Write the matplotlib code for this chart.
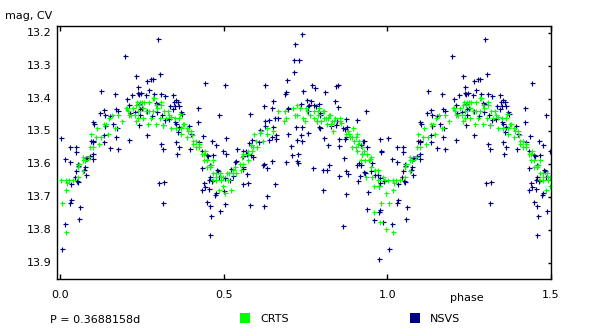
import numpy as np
import matplotlib
matplotlib.use("Agg")
import matplotlib.pyplot as plt
from matplotlib.patches import Rectangle

# Folded light curve, period in days
period_label = "P = 0.3688158d"

# NSVS observations (phase, magnitude)
nsvs_phase = [
    0.298, 0.199, 0.232, 0.266, 0.277, 0.282, 0.305, 0.238, 0.125, 0.272,
    0.168, 0.237, 0.241, 0.220, 0.246, 0.287, 0.261, 0.308, 0.321, 0.204,
    0.209, 0.292, 0.296, 0.240, 0.249, 0.245, 0.134, 0.171, 0.175, 0.122,
    0.137, 0.153, 0.212, 0.227, 0.243, 0.264, 0.295, 0.281, 0.311, 0.101,
    0.104, 0.162, 0.136, 0.173, 0.241, 0.314, 0.319, 0.266, 0.134, 0.170,
    0.003, 0.095, 0.099, 0.101, 0.134, 0.211, 0.307, 0.029, 0.049, 0.153,
    0.177, 0.313, 0.049,
    0.015, 0.031, 0.055, 0.054, 0.073, 0.076, 0.049, 0.046, 0.052, 0.055,
    0.079, 0.034, 0.079, 0.082, 0.091, 0.099, 0.101, 0.076, 0.302, 0.318,
    0.315, 0.032, 0.030, 0.061, 0.058, 0.015, 0.006,
    0.443, 0.504, 0.626, 0.345, 0.354, 0.349, 0.360, 0.337, 0.350, 0.364,
    0.345, 0.370, 0.373, 0.421, 0.486, 0.580, 0.623, 0.651, 0.648, 0.656,
    0.665, 0.626, 0.637, 0.626, 0.651, 0.612, 0.421, 0.351, 0.354, 0.332,
    0.363, 0.394, 0.400, 0.360, 0.660, 0.648, 0.586, 0.638, 0.660, 0.437,
    0.507, 0.464, 0.425, 0.477, 0.354, 0.363, 0.397, 0.434, 0.498, 0.541,
    0.559, 0.568, 0.577, 0.583, 0.608,
    0.358, 0.450, 0.452, 0.467, 0.507, 0.538, 0.533, 0.559, 0.571, 0.583,
    0.590, 0.559, 0.559, 0.571, 0.522, 0.458, 0.434, 0.480, 0.483, 0.458,
    0.455, 0.464, 0.486, 0.504, 0.519, 0.528, 0.440, 0.443, 0.434, 0.455,
    0.476, 0.473, 0.501, 0.559, 0.574, 0.620, 0.623, 0.632, 0.648, 0.657,
    0.632, 0.623, 0.580, 0.449, 0.458, 0.504, 0.489, 0.461, 0.458,
    0.740, 0.718, 0.715, 0.730, 0.715, 0.693, 0.770, 0.779, 0.844, 0.849,
    0.690, 0.687, 0.742, 0.809, 0.754, 0.767, 0.776, 0.782, 0.791, 0.840,
    0.849, 0.736, 0.760, 0.757, 0.696, 0.697, 0.756, 0.794, 0.794, 0.935,
    0.785, 0.846, 0.843, 0.874, 0.907, 0.721, 0.739, 0.791, 0.794, 0.828,
    0.864, 0.871, 0.877, 0.696, 0.736, 0.757, 0.806, 0.852, 0.874, 0.871,
    0.926, 0.929, 0.724, 0.739, 0.706, 0.819, 0.852, 0.919, 0.938, 0.977,
    0.980, 0.982,
    0.710, 0.727, 0.690, 0.724, 0.727, 0.773, 0.803, 0.816, 0.822, 0.867,
    0.852, 0.874, 0.880, 0.907, 0.913, 0.919, 0.916, 0.910, 0.929, 0.932,
    0.922, 0.953, 0.950, 0.962, 0.971, 0.977, 0.977, 0.974, 0.990, 0.803,
    0.874, 0.941, 0.938, 0.977, 0.974, 0.959, 0.987, 0.864, 0.974,
]
nsvs_mag = [
    13.219, 13.271, 13.332, 13.347, 13.340, 13.340, 13.324, 13.366, 13.378, 13.375,
    13.387, 13.382, 13.387, 13.390, 13.382, 13.387, 13.390, 13.385, 13.393, 13.402,
    13.419, 13.414, 13.418, 13.416, 13.429, 13.433, 13.436, 13.433, 13.439, 13.443,
    13.451, 13.453, 13.443, 13.441, 13.451, 13.439, 13.441, 13.453, 13.451, 13.473,
    13.477, 13.478, 13.484, 13.491, 13.481, 13.480, 13.467, 13.512, 13.510, 13.517,
    13.521, 13.529, 13.529, 13.531, 13.532, 13.527, 13.539, 13.548, 13.548, 13.552,
    13.555, 13.555, 13.563,
    13.585, 13.594, 13.599, 13.606, 13.617, 13.608, 13.622, 13.640, 13.650, 13.655,
    13.634, 13.661, 13.582, 13.580, 13.576, 13.584, 13.568, 13.586, 13.658, 13.655,
    13.719, 13.710, 13.718, 13.731, 13.768, 13.783, 13.859,
    13.353, 13.359, 13.359, 13.390, 13.405, 13.411, 13.411, 13.423, 13.423, 13.423,
    13.433, 13.442, 13.448, 13.430, 13.451, 13.448, 13.423, 13.408, 13.430, 13.460,
    13.460, 13.469, 13.466, 13.484, 13.488, 13.497, 13.472, 13.472, 13.479, 13.463,
    13.486, 13.483, 13.509, 13.503, 13.512, 13.518, 13.527, 13.527, 13.524, 13.515,
    13.521, 13.530, 13.533, 13.542, 13.533, 13.548, 13.555, 13.561, 13.561, 13.555,
    13.561, 13.561, 13.536, 13.542, 13.533,
    13.570, 13.573, 13.576, 13.573, 13.570, 13.591, 13.594, 13.576, 13.570, 13.573,
    13.579, 13.609, 13.616, 13.631, 13.616, 13.603, 13.612, 13.619, 13.622, 13.640,
    13.649, 13.652, 13.640, 13.643, 13.649, 13.637, 13.658, 13.670, 13.680, 13.676,
    13.689, 13.695, 13.683, 13.661, 13.658, 13.603, 13.600, 13.612, 13.591, 13.661,
    13.698, 13.728, 13.725, 13.716, 13.728, 13.722, 13.744, 13.759, 13.817,
    13.204, 13.234, 13.283, 13.283, 13.320, 13.344, 13.359, 13.369, 13.362, 13.359,
    13.381, 13.387, 13.378, 13.381, 13.405, 13.408, 13.420, 13.423, 13.417, 13.408,
    13.427, 13.417, 13.420, 13.423, 13.430, 13.433, 13.437, 13.445, 13.451, 13.439,
    13.469, 13.469, 13.481, 13.463, 13.467, 13.488, 13.488, 13.488, 13.491, 13.484,
    13.491, 13.494, 13.488, 13.509, 13.512, 13.506, 13.521, 13.524, 13.518, 13.524,
    13.530, 13.530, 13.527, 13.530, 13.545, 13.542, 13.545, 13.542, 13.548, 13.524,
    13.561, 13.563,
    13.573, 13.570, 13.594, 13.591, 13.597, 13.612, 13.619, 13.619, 13.603, 13.582,
    13.637, 13.622, 13.631, 13.603, 13.597, 13.603, 13.637, 13.652, 13.625, 13.628,
    13.570, 13.597, 13.622, 13.634, 13.634, 13.643, 13.658, 13.667, 13.652, 13.680,
    13.692, 13.686, 13.738, 13.741, 13.747, 13.771, 13.777, 13.789, 13.890,
]

# CRTS observations (phase, magnitude)
crts_phase = [
    0.282, 0.288, 0.236, 0.243, 0.250, 0.256, 0.272, 0.307, 0.230, 0.240,
    0.292, 0.308, 0.200, 0.204, 0.221, 0.252, 0.296, 0.158, 0.177, 0.208,
    0.239, 0.262, 0.270, 0.283, 0.318, 0.209, 0.216, 0.228, 0.239, 0.252,
    0.277, 0.305, 0.323, 0.148, 0.188, 0.231, 0.140, 0.133, 0.269, 0.294,
    0.315, 0.113, 0.168, 0.095, 0.146, 0.108, 0.125, 0.117, 0.092, 0.101,
    0.003, 0.017, 0.027, 0.040, 0.020, 0.018, 0.006, 0.018, 0.055, 0.055,
    0.057, 0.070, 0.070, 0.075, 0.070, 0.089,
    0.329, 0.332, 0.339, 0.351, 0.367, 0.363, 0.339, 0.354, 0.370, 0.376,
    0.379, 0.386, 0.391, 0.400, 0.370, 0.388, 0.403, 0.406, 0.415, 0.406,
    0.415, 0.425, 0.443, 0.425, 0.666, 0.614, 0.611, 0.632, 0.632, 0.651,
    0.593, 0.599, 0.620, 0.583, 0.590, 0.602, 0.574, 0.586,
    0.434, 0.440, 0.440, 0.449, 0.467, 0.449, 0.458, 0.461, 0.467, 0.476,
    0.489, 0.476, 0.492, 0.498, 0.467, 0.476, 0.492, 0.513, 0.510, 0.516,
    0.528, 0.538, 0.528, 0.534, 0.550, 0.559, 0.553, 0.556, 0.574, 0.559,
    0.574, 0.498, 0.486, 0.504, 0.522,
    0.687, 0.712, 0.724, 0.733, 0.718, 0.724, 0.751, 0.754, 0.776, 0.788,
    0.791, 0.803, 0.806, 0.764, 0.788, 0.690, 0.684, 0.742, 0.748, 0.776,
    0.785, 0.797, 0.806, 0.812, 0.819, 0.822, 0.825, 0.840, 0.855, 0.831,
    0.837, 0.855, 0.858, 0.816, 0.828, 0.834, 0.880, 0.874, 0.883, 0.886,
    0.895, 0.892, 0.904, 0.907, 0.898, 0.913, 0.910, 0.892, 0.904, 0.922,
    0.907, 0.929,
    0.922, 0.938, 0.919, 0.932, 0.944, 0.950, 0.947, 0.950, 0.962, 0.971,
    0.935, 0.953, 0.971, 0.987, 0.993, 0.959, 0.974, 0.996, 0.980, 0.959,
    0.977, 0.996,
]
crts_mag = [
    13.399, 13.399, 13.411, 13.411, 13.411, 13.411, 13.411, 13.411, 13.420, 13.420,
    13.420, 13.420, 13.430, 13.430, 13.430, 13.430, 13.430, 13.451, 13.451, 13.439,
    13.439, 13.439, 13.439, 13.439, 13.439, 13.451, 13.451, 13.451, 13.460, 13.460,
    13.460, 13.460, 13.460, 13.460, 13.469, 13.469, 13.478, 13.478, 13.478, 13.478,
    13.480, 13.491, 13.491, 13.509, 13.509, 13.518, 13.518, 13.539, 13.548, 13.548,
    13.649, 13.649, 13.649, 13.649, 13.658, 13.680, 13.719, 13.808, 13.640, 13.609,
    13.601, 13.579, 13.586, 13.586, 13.620, 13.579,
    13.439, 13.451, 13.457, 13.460, 13.448, 13.460, 13.491, 13.491, 13.491, 13.478,
    13.478, 13.491, 13.500, 13.500, 13.509, 13.518, 13.512, 13.530, 13.530, 13.539,
    13.548, 13.548, 13.561, 13.539, 13.439, 13.500, 13.506, 13.491, 13.509, 13.500,
    13.509, 13.530, 13.530, 13.542, 13.548, 13.548, 13.561, 13.561,
    13.570, 13.570, 13.588, 13.588, 13.588, 13.609, 13.609, 13.603, 13.628, 13.628,
    13.628, 13.640, 13.640, 13.640, 13.649, 13.649, 13.649, 13.649, 13.628, 13.628,
    13.628, 13.628, 13.619, 13.609, 13.600, 13.600, 13.619, 13.579, 13.588, 13.570,
    13.570, 13.667, 13.680, 13.689, 13.680,
    13.439, 13.430, 13.420, 13.430, 13.451, 13.451, 13.430, 13.439, 13.439, 13.439,
    13.430, 13.439, 13.439, 13.451, 13.451, 13.460, 13.469, 13.460, 13.469, 13.460,
    13.469, 13.469, 13.460, 13.460, 13.460, 13.451, 13.451, 13.460, 13.460, 13.469,
    13.469, 13.469, 13.475, 13.478, 13.478, 13.500, 13.500, 13.509, 13.509, 13.518,
    13.491, 13.518, 13.518, 13.509, 13.530, 13.530, 13.539, 13.548, 13.548, 13.548,
    13.561, 13.561,
    13.570, 13.570, 13.588, 13.588, 13.588, 13.579, 13.585, 13.609, 13.619, 13.619,
    13.640, 13.640, 13.649, 13.640, 13.649, 13.667, 13.667, 13.689, 13.719, 13.747,
    13.777, 13.798,
]

x_ticks = [0.0, 0.5, 1.0, 1.5]
y_ticks = [13.2, 13.3, 13.4, 13.5, 13.6, 13.7, 13.8, 13.9]

crts_color = "#00ff00"
nsvs_color = "#000080"


def unfold(phase, mag, upto=1.5):
    # show the folded curve over 1.5 cycles: points repeated one period later
    phase = np.asarray(phase)
    mag = np.asarray(mag)
    extra = phase + 1.0 <= upto
    return np.concatenate([phase, phase[extra] + 1.0]), np.concatenate([mag, mag[extra]])


plt.rcParams["font.family"] = "DejaVu Sans"
plt.rcParams["font.size"] = 8

fig = plt.figure(figsize=(6.0, 3.36), dpi=100)
ax = fig.add_axes([0.0945, 0.1696, 0.8235, 0.7521])

px, pm = unfold(nsvs_phase, nsvs_mag)
ax.plot(px, pm, linestyle="none", marker="+", ms=3.6, mew=0.85, color=nsvs_color)
px, pm = unfold(crts_phase, crts_mag)
ax.plot(px, pm, linestyle="none", marker="+", ms=3.6, mew=0.85, color=crts_color)

ax.set_xlim(-0.011, 1.5)
ax.set_ylim(13.95, 13.18)
ax.set_xticks(x_ticks)
ax.set_xticklabels([f"{t:.1f}" for t in x_ticks])
ax.set_yticks(y_ticks)
ax.set_yticklabels([f"{t:.1f}" for t in y_ticks], va="top")

ax.tick_params(axis="x", direction="in", top=True, bottom=True, length=3.5,
               width=1.0, pad=8, labelsize=8)
ax.tick_params(axis="y", direction="in", left=False, right=True, length=2.5,
               width=1.0, pad=4, labelsize=8)
for lbl in ax.get_yticklabels():
    lbl.set_va("center")
    lbl.set_y(lbl.get_position()[1])
for sp in ax.spines.values():
    sp.set_linewidth(1.0)

fig.text(5 / 600, 1 - 16 / 336, "mag, CV", ha="left", va="center", fontsize=8)
fig.text(467 / 600, 1 - 298 / 336, "phase", ha="center", va="center", fontsize=8)
fig.text(50 / 600, 1 - 320 / 336, period_label, ha="left", va="center", fontsize=8)

# legend: coloured squares with labels below the plot
for x0, color, label in [(240, crts_color, "CRTS"), (410, nsvs_color, "NSVS")]:
    fig.add_artist(Rectangle((x0 / 600, 1 - 323 / 336), 10 / 600, 10 / 336,
                             transform=fig.transFigure, color=color, lw=0))
    fig.text((x0 + 20) / 600, 1 - 319 / 336, label, ha="left", va="center", fontsize=8)

fig.savefig("out.png", dpi=100)
